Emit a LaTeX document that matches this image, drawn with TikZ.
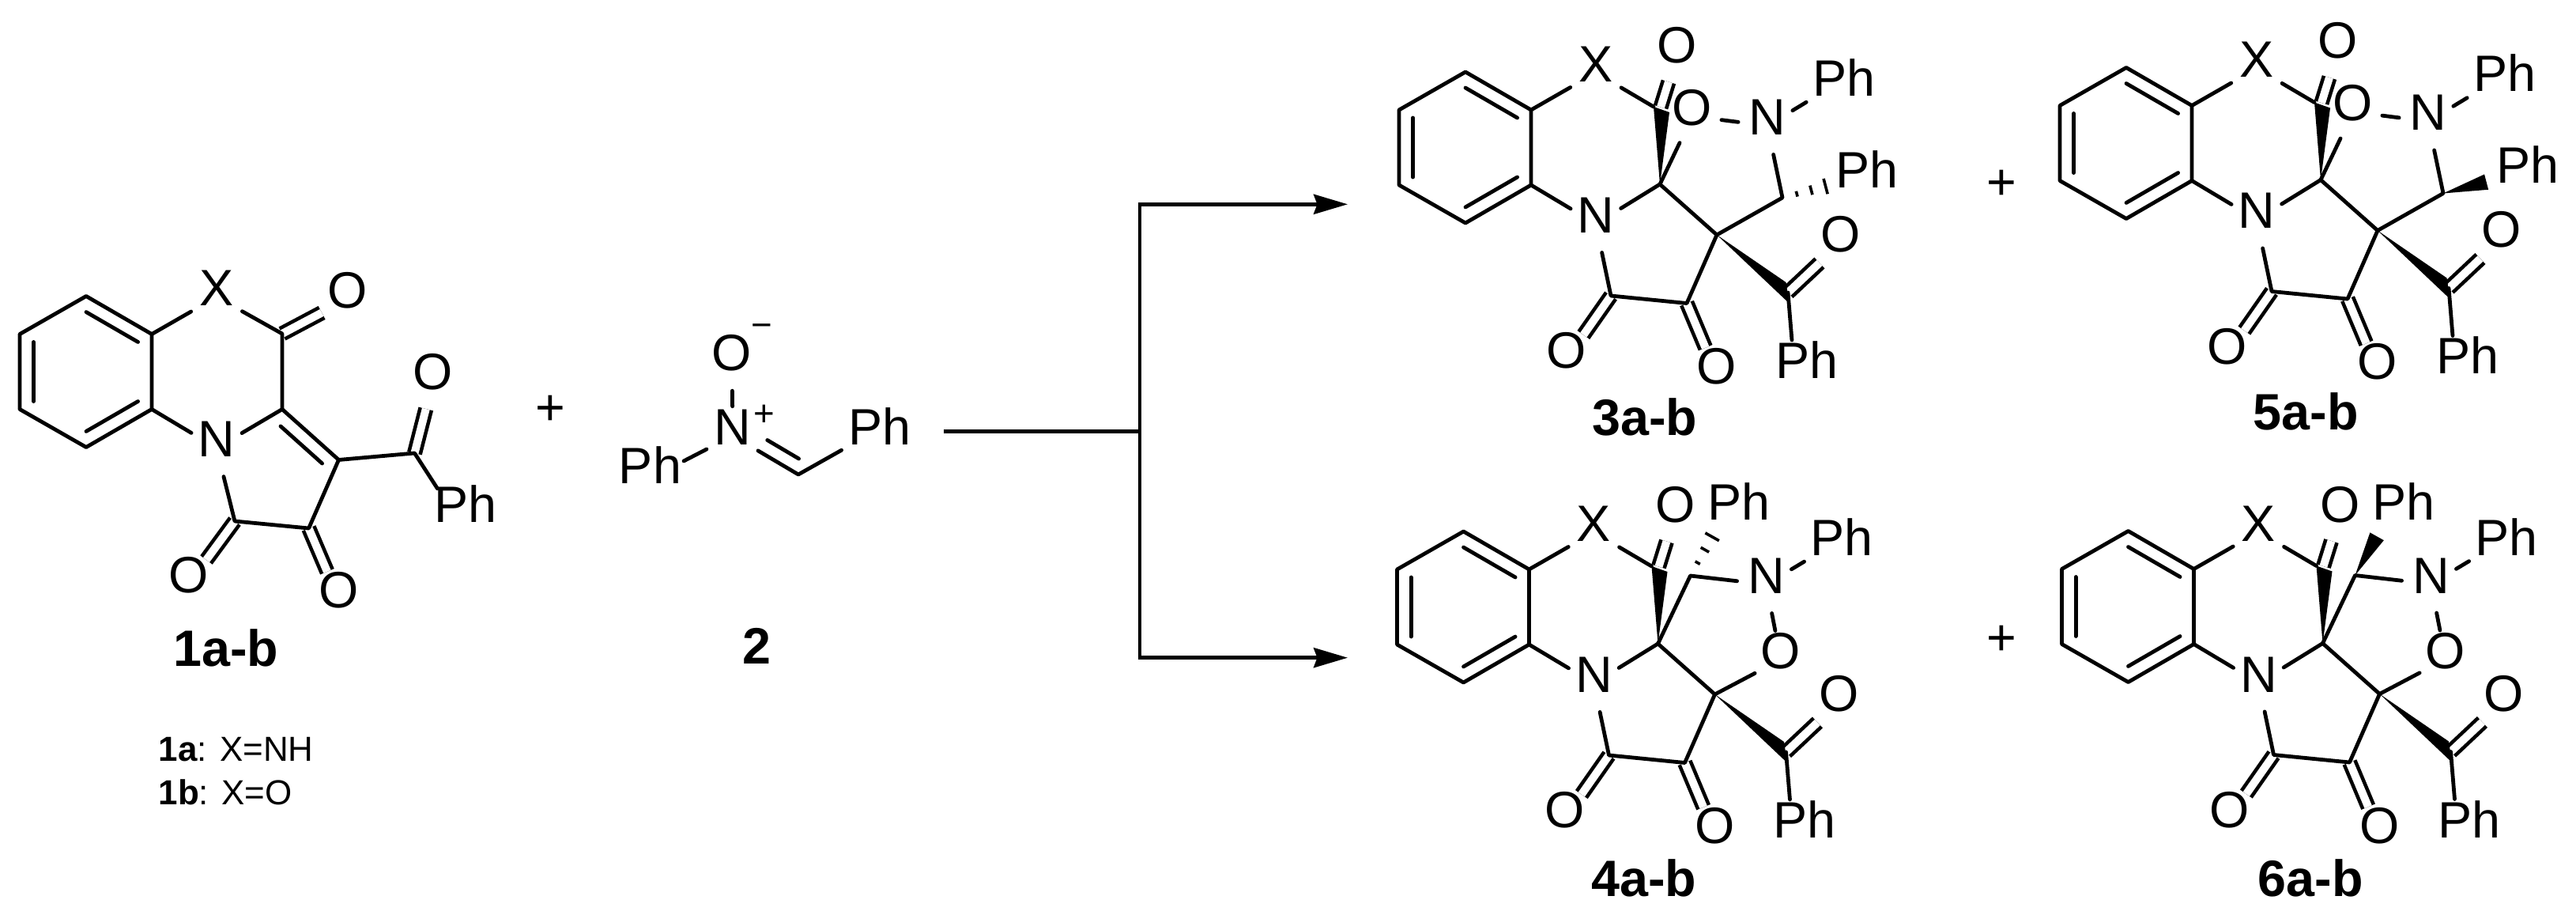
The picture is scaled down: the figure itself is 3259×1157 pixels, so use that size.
\documentclass[tikz,border=0pt]{standalone}
\usepackage{fontspec}
\setmainfont{Liberation Sans}
\usetikzlibrary{calc,arrows.meta}

\newcommand{\atm}[1]{\makebox[0pt]{\raisebox{-1.15mm}[0pt][0pt]{#1}}}
\newcommand{\phr}{\makebox[0pt][l]{\hspace{-2.4mm}\raisebox{-1.15mm}[0pt][0pt]{Ph}}}
\newcommand{\phl}{\makebox[0pt][r]{\raisebox{-1.15mm}[0pt][0pt]{Ph}\hspace{-3mm}}}

\newcommand{\ringb}{%
    \coordinate (r1) at (0,0);
    \coordinate (r2) at (-84,48);
    \coordinate (r3) at (-84,143);
    \coordinate (r4) at (0,191);
    \coordinate (r5) at (83,143);
    \coordinate (r6) at (83,48);
    \coordinate (rc) at (0,95.5);
    \node[atom] (x) at (165,1) {\atm{X}};
    \node[atom] (n) at (165,192) {\atm{N}};
    \draw[bond] (r1)--(r2)--(r3)--(r4)--(r5)--(r6)--cycle;
    \foreach \a/\b in {r1/r6,r2/r3,r4/r5}
      \draw[bond] ($(rc)!.79!(\a)$)--($(rc)!.79!(\b)$);
    \draw[bond] (r6)--(x);
    \draw[bond] (r5)--(n);
}

\newcommand{\coreb}{%
    \ringb
    \coordinate (cco) at (247,44.5);
    \coordinate (wc) at (238,44);
    \coordinate (wd) at (258,51);
    \coordinate (spiro) at (246,142);
    \coordinate (c3) at (318,206);
    \coordinate (ck) at (280,292.5);
    \coordinate (cl) at (184,283);
    \coordinate (cbz) at (408,279);
    \coordinate (wa) at (405.5,266);
    \coordinate (wb) at (409.5,292.5);
    \node[atom] (oco) at (268,-23) {\atm{O}};
    \node[atom] (ol) at (128,363) {\atm{O}};
    \node[atom] (okt) at (318,383) {\atm{O}};
    \node[atom] (obz) at (475,216) {\atm{O}};
    \node[atom] (phb) at (416,376) {\phr};
    \draw[dbl] (cco)--(oco);
    \draw[dbl] (cl)--(ol);
    \draw[dbl] (ck)--(okt);
    \draw[dbl] (cbz)--(obz);
    \draw[bond] (x)--(wc);
    \fill (spiro)--(wc)--(wd)--cycle;
    \draw[bond] (spiro)--(n);
    \draw[bond] (spiro)--(c3);
    \draw[bond] (c3)--(ck)--(cl)--(n);
    \fill (c3)--(wa)--(wb)--cycle;
    \draw[bond] (cbz)--(phb);
}

\newcommand{\hashb}[2]{%
    \foreach \tpos/\hw in {.2/.35mm,.4/.6mm,.6/1mm}
      \draw[hashbar] ($(#1)!\tpos!(#2)!\hw!90:(#2)$)--($(#1)!\tpos!(#2)!\hw!-90:(#2)$);
}
\newcommand{\wedgeb}[2]{%
    \fill (#1)--($(#1)!.6!(#2)!1mm!90:(#2)$)--($(#1)!.6!(#2)!1mm!-90:(#2)$)--cycle;
}

\begin{document}
\begin{tikzpicture}[x=0.1mm,y=-0.1mm,
    bond/.style={line width=.48mm,line cap=round,line join=round},
    dbl/.style={line width=.46mm,double,double distance=1mm},
    hashbar/.style={line width=.36mm},
    atom/.style={circle,inner sep=0pt,minimum size=7.3mm,font=\fontsize{18.4}{20}\selectfont},
    lab/.style={inner sep=0pt,font=\fontsize{18.4}{20}\selectfont\bfseries},
    plusm/.style={inner sep=0pt,font=\fontsize{18.4}{20}\selectfont},
    charge/.style={inner sep=0pt,font=\fontsize{13}{14}\selectfont},
    note/.style={anchor=base west,inner sep=0pt,font=\fontsize{12.5}{14}\selectfont},
    rxn/.style={line width=.46mm},
    pics/startm/.style={code={ %
      \ringb
      \coordinate (cco) at (248,47.5);
      \coordinate (cb) at (248,143);
      \coordinate (cc) at (319.5,207);
      \coordinate (ck) at (281.6,293.5);
      \coordinate (cl) at (188,284.5);
      \coordinate (cbz) at (415.5,198.5);
      \coordinate (pc) at (240.6,224);
      \node[atom] (oco) at (331,3.5) {\atm{O}};
      \node[atom] (ol) at (130,363.5) {\atm{O}};
      \node[atom] (okt) at (319.5,382.5) {\atm{O}};
      \node[atom] (obz) at (439,106.5) {\atm{O}};
      \node[atom] (phb) at (464.6,274.5) {\phr};
      \draw[dbl] (cco)--(oco);
      \draw[dbl] (cl)--(ol);
      \draw[dbl] (ck)--(okt);
      \draw[dbl] (cbz)--(obz);
      \draw[bond] (x)--(cco)--(cb)--(n);
      \draw[bond] (cb)--(cc)--(ck)--(cl)--(n);
      \draw[bond] ($(pc)!.735!(cb)$)--($(pc)!.735!(cc)$);
      \draw[bond] (cc)--(cbz)--(phb);
    }},
    pics/proda/.style={code={ %
      \coreb
      \node[atom] (o) at (287,56) {\atm{O}};
      \node[atom] (nn) at (382,68) {\atm{N}};
      \coordinate (cph) at (401,159);
      \node[atom] (phn) at (463,19) {\phr};
      \node[atom] (phc) at (492,135) {\phr};
      \draw[bond] (spiro)--(o);
      \draw[bond] (o)--(nn);
      \draw[bond] (nn)--(cph)--(c3);
      \draw[bond] (nn)--(phn);
      #1{cph}{phc}
    }},
    pics/prodb/.style={code={ %
      \coreb
      \coordinate (cph) at (287,56);
      \node[atom] (nn) at (383,67) {\atm{N}};
      \node[atom] (o) at (401.5,162) {\atm{O}};
      \node[atom] (phn) at (463,19) {\phr};
      \node[atom] (phc) at (333,-26) {\phr};
      \draw[bond] (spiro)--(cph)--(nn);
      \draw[bond] (nn)--(o)--(c3);
      \draw[bond] (nn)--(phn);
      #1{cph}{phc}
    }}]
    \useasboundingbox (0,0) rectangle (3259,1157);

    \pic (m1) at (109,374.5) {startm}; %
    \node[lab] (lab1) at (286,819) {1a-b};
    \node[note] (note1a) at (200,962) {\textbf{1a}: X=NH};
    \node[note] (note1b) at (200,1017) {\textbf{1b}: X=O};
    \node[plusm] (plus1) at (696,519) {+};

    \node[atom] (o2) at (926,457) {\atm{O}};
    \node[atom] (n2) at (927,551) {\atm{N}};
    \coordinate (c2) at (1010,600);
    \node[atom] (phl2) at (832,600) {\phl};
    \node[atom] (phr2) at (1097,551) {\phr};
    \node[charge] (mi2) at (964,418) {−};
    \node[charge] (pl2) at (967,525) {+};
    \node[lab] (lab2) at (957,817) {2};
    \draw[bond] (o2)--(n2);
    \draw[bond] (n2)--(phl2);
    \draw[bond] (n2)--(c2)--(phr2);
    \draw[bond] ($(n2)!.42!(c2)!1.75mm!90:(c2)$)--($(n2)!.9!(c2)!1.75mm!90:(c2)$);

    \coordinate (brl) at (1194,545.7);
    \coordinate (brj) at (1442,545.7);
    \coordinate (tipa) at (1705,258.3);
    \coordinate (tipb) at (1705,831.7);
    \draw[rxn] (brl)--(brj);
    \draw[rxn,-{Stealth[length=4.3mm,width=2.5mm,inset=.45mm]}] (brj) |- (tipa);
    \draw[rxn,-{Stealth[length=4.3mm,width=2.5mm,inset=.45mm]}] (brj) |- (tipb);

    \pic (p3) at (1854,91) {proda=\hashb}; %
    \node[lab] (lab3) at (2081,527) {3a-b};
    \node[plusm] (plus3) at (2532,234) {+};
    \pic (p5) at (2690,85.5) {proda=\wedgeb}; %
    \node[lab] (lab5) at (2917,520) {5a-b};
    \pic (p4) at (1851.5,672) {prodb=\hashb}; %
    \node[lab] (lab4) at (2080,1110) {4a-b};
    \node[plusm] (plus4) at (2532,810) {+};
    \pic (p6) at (2692.5,671.5) {prodb=\wedgeb}; %
    \node[lab] (lab6) at (2923,1110) {6a-b};
\end{tikzpicture}
\end{document}
